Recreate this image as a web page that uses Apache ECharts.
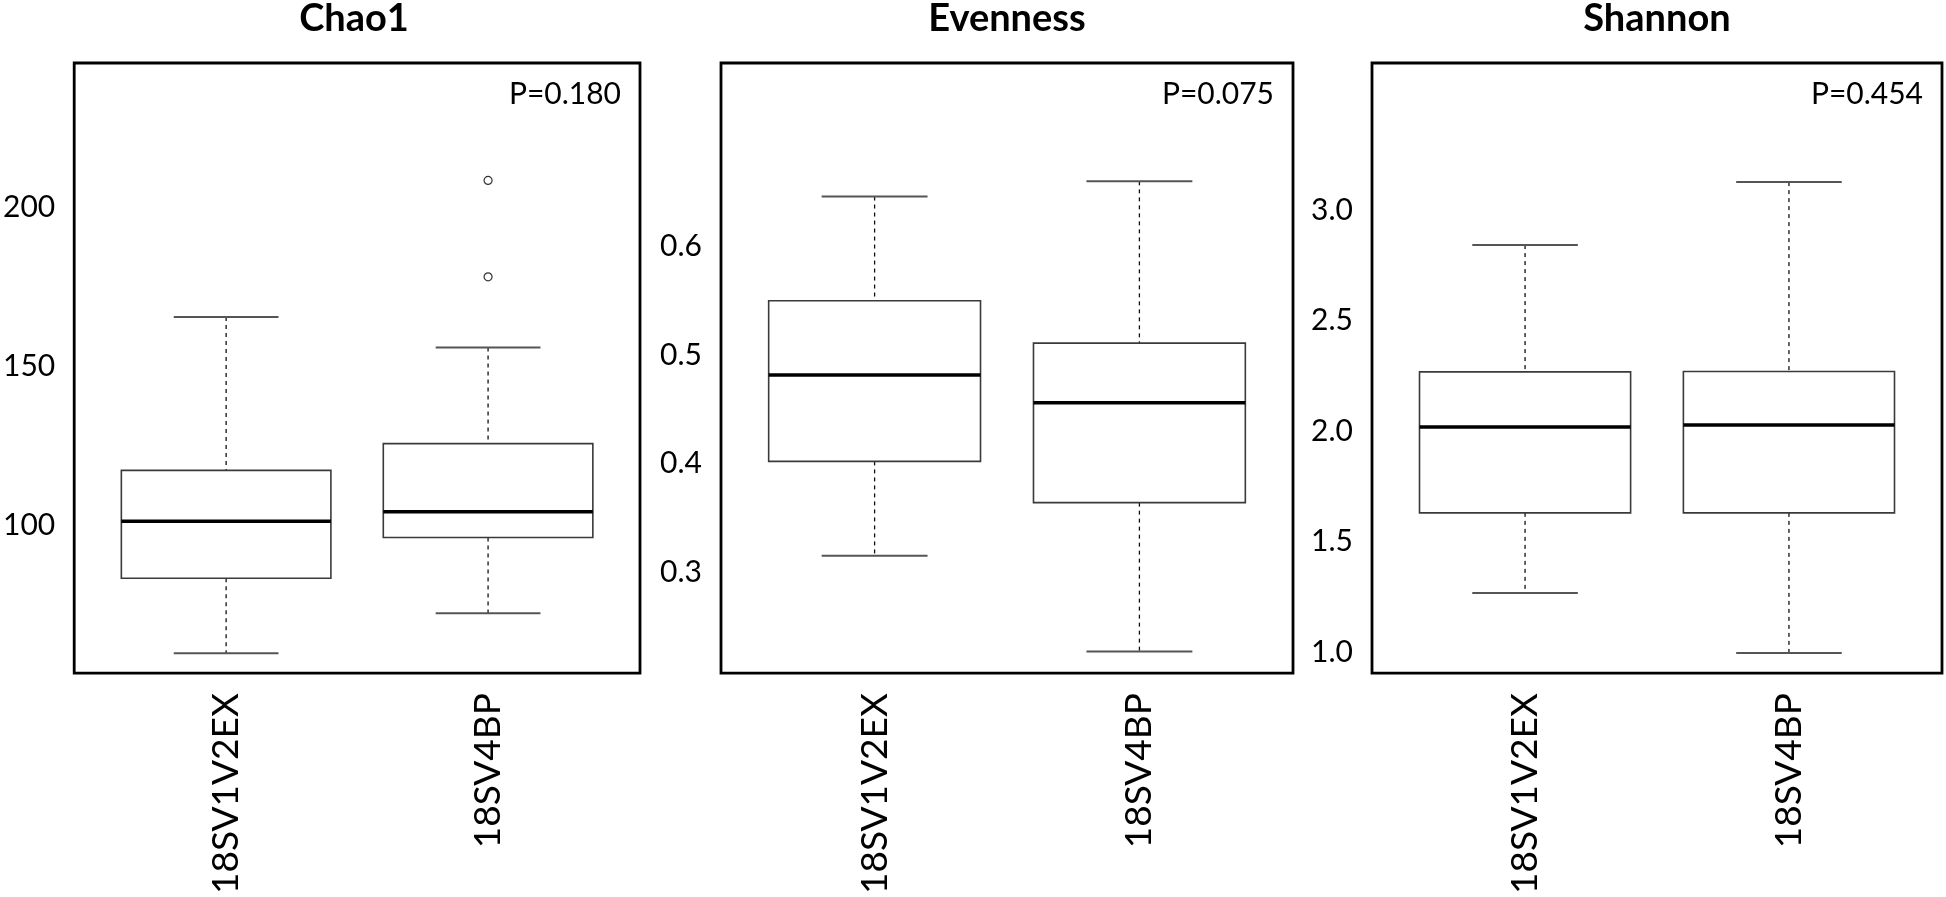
<!DOCTYPE html>
<html>
<head>
<meta charset="utf-8">
<script src="https://cdn.jsdelivr.net/npm/echarts@6/dist/echarts.min.js"></script>
<style>
html,body{margin:0;padding:0;background:#fff;}
#main{width:1946px;height:897px;}
</style>
</head>
<body>
<div id="main"></div>
<script>
// ---- data ----
const categories = ['18SV1V2EX', '18SV4BP'];
const panelTitles = ['Chao1', 'Evenness', 'Shannon'];
const pLabels = ['P=0.180', 'P=0.075', 'P=0.454'];
// [min whisker, Q1, median, Q3, max whisker]
const chao1Box = [[59.8, 83.4, 101.3, 117.3, 165.5], [72.4, 96.2, 104.3, 125.7, 155.9]];
const chao1Outliers = [[2, 208.4], [2, 178.1]];
const evennessBox = [[0.315, 0.402, 0.4815, 0.550, 0.646], [0.227, 0.364, 0.456, 0.511, 0.660]];
const evennessOutliers = [];
const shannonBox = [[1.266, 1.629, 2.018, 2.267, 2.841], [0.995, 1.629, 2.027, 2.269, 3.126]];
const shannonOutliers = [];
const chao1Ticks = [100, 150, 200];
const evennessTicks = [0.3, 0.4, 0.5, 0.6];
const shannonTicks = [1.0, 1.5, 2.0, 2.5, 3.0];
const chao1Range = [53.6, 245.3];
const evennessRange = [0.207, 0.769];
const shannonRange = [0.904, 3.665];

// ---- layout ----
const FONT = 'Lato';
const grids = [
  {left: 68, top: 63, width: 572, height: 613},
  {left: 721, top: 63, width: 572, height: 613},
  {left: 1372, top: 63, width: 570, height: 613}
];

function renderBox(params, api) {
  const x = api.value(0);
  const lo = api.coord([x, api.value(1)]);
  const q1 = api.coord([x, api.value(2)]);
  const med = api.coord([x, api.value(3)]);
  const q3 = api.coord([x, api.value(4)]);
  const hi = api.coord([x, api.value(5)]);
  const bw = api.size([0.8, 0])[0];
  const cw = bw / 2;
  const cx = lo[0];
  const dash = {stroke: '#111', lineWidth: 1.3, lineDash: [4, 4]};
  const cap = {stroke: '#555', lineWidth: 2};
  return {
    type: 'group',
    children: [
      {type: 'line', shape: {x1: cx, y1: hi[1], x2: cx, y2: q3[1]}, style: dash},
      {type: 'line', shape: {x1: cx, y1: q1[1], x2: cx, y2: lo[1]}, style: dash},
      {type: 'line', shape: {x1: cx - cw / 2, y1: hi[1], x2: cx + cw / 2, y2: hi[1]}, style: cap},
      {type: 'line', shape: {x1: cx - cw / 2, y1: lo[1], x2: cx + cw / 2, y2: lo[1]}, style: cap},
      {type: 'rect', shape: {x: cx - bw / 2, y: q3[1], width: bw, height: q1[1] - q3[1]},
        style: {fill: '#fff', stroke: '#3a3a3a', lineWidth: 1.6}},
      {type: 'line', shape: {x1: cx - bw / 2, y1: med[1], x2: cx + bw / 2, y2: med[1]},
        style: {stroke: '#000', lineWidth: 3.5}}
    ]
  };
}

const panels = [
  {box: chao1Box, out: chao1Outliers, ticks: chao1Ticks, range: chao1Range, dec: 0},
  {box: evennessBox, out: evennessOutliers, ticks: evennessTicks, range: evennessRange, dec: 1},
  {box: shannonBox, out: shannonOutliers, ticks: shannonTicks, range: shannonRange, dec: 1}
];

const option = {
  backgroundColor: '#fff',
  animation: false,
  title: [],
  grid: [],
  xAxis: [],
  yAxis: [],
  series: []
};

panels.forEach((p, i) => {
  const g = grids[i];
  option.grid.push(Object.assign({show: true, borderColor: '#000', borderWidth: 2.8, backgroundColor: 'transparent'}, g));
  option.title.push({
    text: panelTitles[i], left: g.left + g.width / 2, top: 0, textAlign: 'center', padding: 0,
    textStyle: {fontFamily: FONT, fontWeight: 'bold', fontSize: 38, color: '#000'}
  });
  option.title.push({
    text: pLabels[i], left: g.left + g.width - 19, top: 79, textAlign: 'right', padding: 0,
    textStyle: {fontFamily: FONT, fontWeight: 'normal', fontSize: 30, color: '#000'}
  });
  option.xAxis.push({
    type: 'value', gridIndex: i, min: 0.42, max: 2.58,
    axisLine: {show: false}, axisTick: {show: false}, splitLine: {show: false},
    axisLabel: {
      customValues: [1, 2], rotate: 90, margin: 20,
      fontFamily: FONT, fontSize: 37, color: '#000',
      formatter: v => categories[Math.round(v) - 1] || ''
    }
  });
  option.yAxis.push({
    type: 'value', gridIndex: i, min: p.range[0], max: p.range[1],
    axisLine: {show: false}, axisTick: {show: false}, splitLine: {show: false},
    axisLabel: {
      customValues: p.ticks, margin: 19,
      fontFamily: FONT, fontSize: 30, color: '#000',
      formatter: v => Number(v).toFixed(p.dec)
    }
  });
  option.series.push({
    type: 'custom', xAxisIndex: i, yAxisIndex: i,
    renderItem: renderBox,
    data: p.box.map((s, k) => [k + 1].concat(s))
  });
  if (p.out.length) {
    option.series.push({
      type: 'scatter', xAxisIndex: i, yAxisIndex: i,
      symbol: 'circle', symbolSize: 8,
      itemStyle: {color: '#fff', borderColor: '#000', borderWidth: 1.2},
      data: p.out
    });
  }
});

const chart = echarts.init(document.getElementById('main'), null, {renderer: 'canvas'});
chart.setOption(option);
</script>
</body>
</html>
